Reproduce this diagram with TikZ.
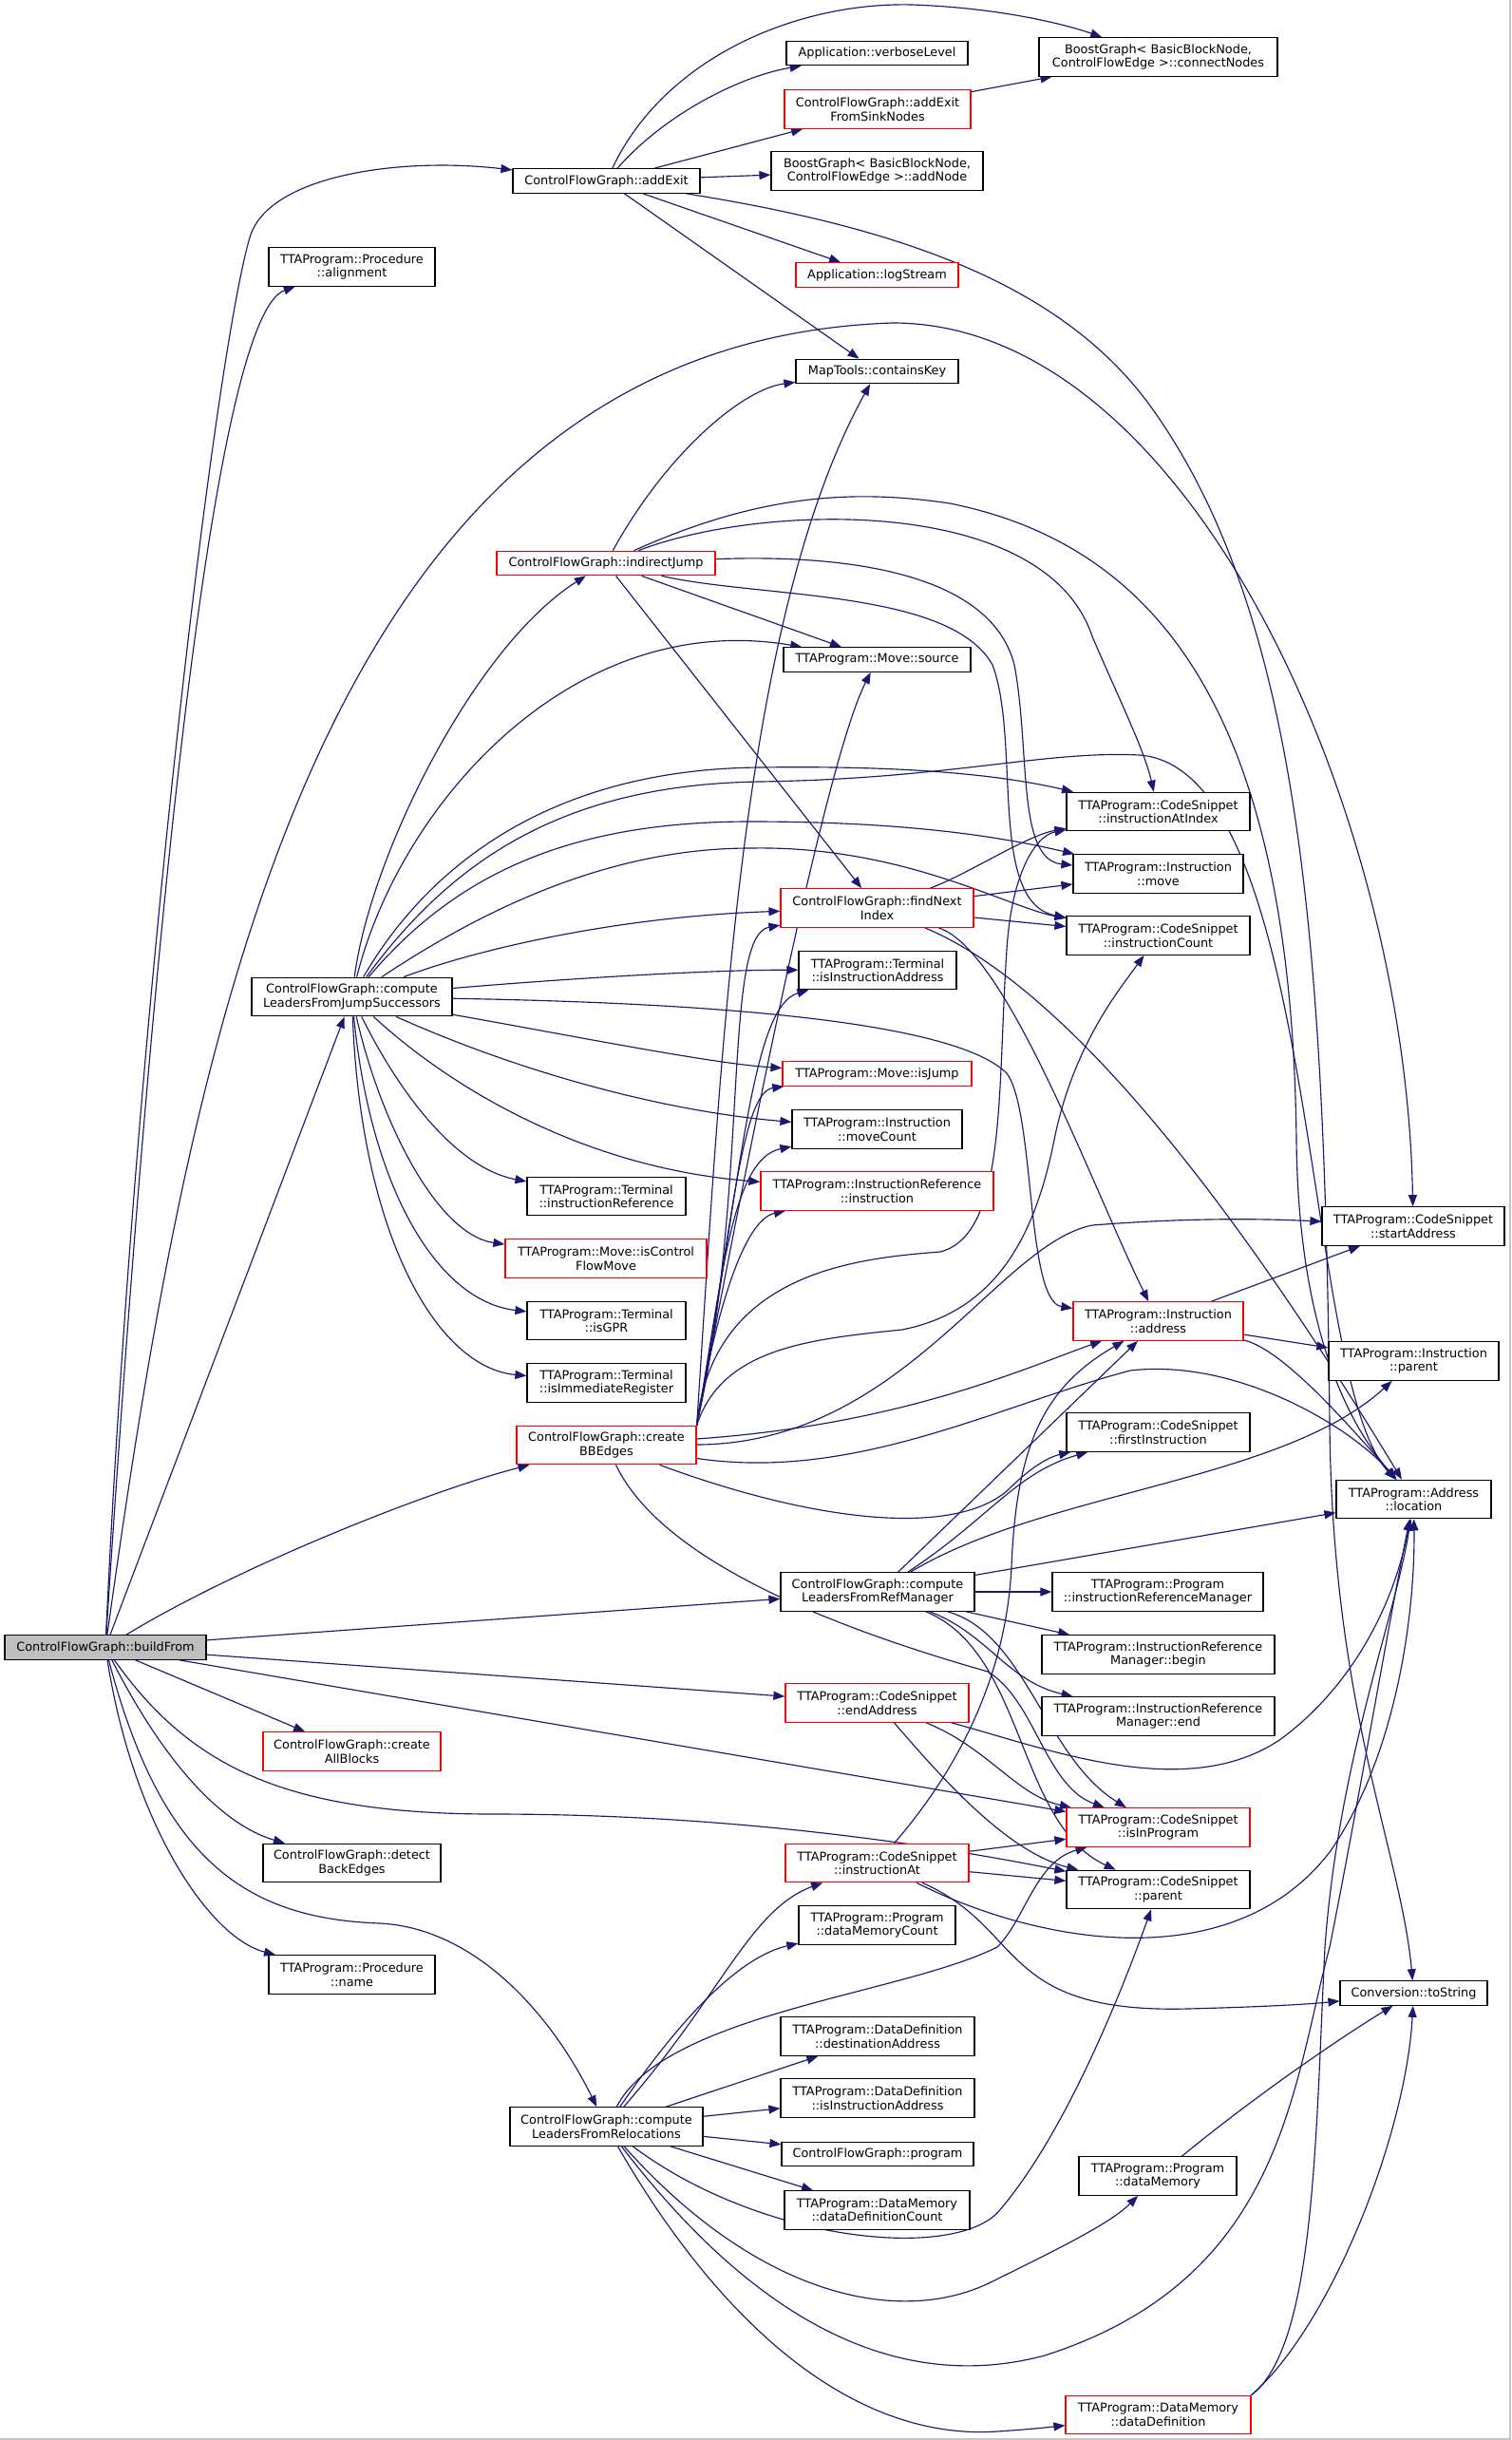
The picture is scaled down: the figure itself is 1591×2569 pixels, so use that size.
\documentclass[tikz,border=0pt]{standalone}
\usepackage{fontspec}
\setmainfont{DejaVu Sans}
\usetikzlibrary{arrows.meta}
\definecolor{edgec}{HTML}{191970}
\definecolor{gfill}{HTML}{BFBFBF}
\pgfdeclarelayer{back}
\pgfdeclarelayer{edges}
\pgfsetlayers{back,edges,main}
\newcommand{\mkbox}[7]{\node[#6, minimum width=#4pt, minimum height=#5pt] (#1) at (#2,#3) {#7};}
\tikzset{
  box/.style={draw=black, fill=white, line width=1.2pt, inner sep=0pt, align=center, font=\fontsize{12.85}{14.5}\selectfont},
  rbox/.style={box, draw=red},
  gbox/.style={box, fill=gfill},
  e/.style={draw=edgec, line width=1.15pt, -{Triangle[length=12pt,width=9pt]}},
}
\begin{document}
\begin{tikzpicture}[x=1pt,y=-1pt]
\useasboundingbox (0,0) rectangle (1591,2569);
\begin{pgfonlayer}{back}
\fill[white] (0,0) rectangle (1591,2569);
\draw[gray!45, line width=2pt] (1590,0) -- (1590,2568) -- (0,2568);
\end{pgfonlayer}
% nodes
\mkbox{bf}{111}{1734.5}{212}{25.5}{gbox}{ControlFlowGraph::buildFrom}
\mkbox{ae}{638.5}{190.5}{197}{25.5}{box}{ControlFlowGraph::addExit}
\mkbox{algn}{370.5}{281}{175}{40.5}{box}{TTAProgram::Procedure\\::alignment}
\mkbox{vl}{923.5}{56}{191}{25.5}{box}{Application::verboseLevel}
\mkbox{cn}{1219.5}{60}{251}{40.5}{box}{BoostGraph< BasicBlockNode,\\ControlFlowEdge >::connectNodes}
\mkbox{aefsn}{924}{115}{196}{40.5}{rbox}{ControlFlowGraph::addExit\\FromSinkNodes}
\mkbox{an}{923.5}{180}{223}{40.5}{box}{BoostGraph< BasicBlockNode,\\ControlFlowEdge >::addNode}
\mkbox{ls}{923.5}{289.5}{171}{25.5}{rbox}{Application::logStream}
\mkbox{ck}{923.5}{391}{171}{25.5}{box}{MapTools::containsKey}
\mkbox{ij}{638}{593}{230}{25.5}{rbox}{ControlFlowGraph::indirectJump}
\mkbox{ms}{923.5}{694.5}{197}{25.5}{box}{TTAProgram::Move::source}
\mkbox{iai}{1219.5}{854.5}{193}{40.5}{box}{TTAProgram::CodeSnippet\\::instructionAtIndex}
\mkbox{im}{1219.5}{920}{179}{40.5}{box}{TTAProgram::Instruction\\::move}
\mkbox{fni}{923.5}{956}{203}{40.5}{rbox}{ControlFlowGraph::findNext\\Index}
\mkbox{ic}{1219.5}{985}{193}{40.5}{box}{TTAProgram::CodeSnippet\\::instructionCount}
\mkbox{cfljs}{370.5}{1049.5}{211}{40.5}{box}{ControlFlowGraph::compute\\LeadersFromJumpSuccessors}
\mkbox{tiia}{924}{1021.5}{166}{40.5}{box}{TTAProgram::Terminal\\::isInstructionAddress}
\mkbox{isj}{923.5}{1130.5}{199}{25.5}{rbox}{TTAProgram::Move::isJump}
\mkbox{mc}{923.5}{1189}{179}{40.5}{box}{TTAProgram::Instruction\\::moveCount}
\mkbox{iri}{923.5}{1254}{245}{40.5}{rbox}{TTAProgram::InstructionReference\\::instruction}
\mkbox{tir}{638.5}{1259.5}{167}{40.5}{box}{TTAProgram::Terminal\\::instructionReference}
\mkbox{icfm}{638}{1325}{212}{40.5}{rbox}{TTAProgram::Move::isControl\\FlowMove}
\mkbox{gpr}{638.5}{1390.5}{167}{40.5}{box}{TTAProgram::Terminal\\::isGPR}
\mkbox{imr}{638.5}{1456}{167}{40.5}{box}{TTAProgram::Terminal\\::isImmediateRegister}
\mkbox{cbb}{638.5}{1521.5}{189}{40.5}{rbox}{ControlFlowGraph::create\\BBEdges}
\mkbox{sa}{1488}{1291}{192}{40.5}{box}{TTAProgram::CodeSnippet\\::startAddress}
\mkbox{ia}{1219.5}{1391}{179}{40.5}{rbox}{TTAProgram::Instruction\\::address}
\mkbox{ip}{1488.5}{1433}{179}{40.5}{box}{TTAProgram::Instruction\\::parent}
\mkbox{fi}{1219.5}{1508}{193}{40.5}{box}{TTAProgram::CodeSnippet\\::firstInstruction}
\mkbox{loc}{1488.5}{1578.5}{163}{40.5}{box}{TTAProgram::Address\\::location}
\mkbox{cflrm}{924}{1676}{204}{40.5}{box}{ControlFlowGraph::compute\\LeadersFromRefManager}
\mkbox{irm}{1219}{1676}{222}{40.5}{box}{TTAProgram::Program\\::instructionReferenceManager}
\mkbox{irmb}{1219.5}{1742}{245}{40.5}{box}{TTAProgram::InstructionReference\\Manager::begin}
\mkbox{irme}{1219.5}{1807}{245}{40.5}{box}{TTAProgram::InstructionReference\\Manager::end}
\mkbox{ea}{923.5}{1793}{193}{40.5}{rbox}{TTAProgram::CodeSnippet\\::endAddress}
\mkbox{cab}{370.5}{1844}{187}{40.5}{rbox}{ControlFlowGraph::create\\AllBlocks}
\mkbox{iip}{1219.5}{1924}{193}{40.5}{rbox}{TTAProgram::CodeSnippet\\::isInProgram}
\mkbox{dbe}{370.5}{1961.5}{187}{40.5}{box}{ControlFlowGraph::detect\\BackEdges}
\mkbox{iat}{923.5}{1961.5}{193}{40.5}{rbox}{TTAProgram::CodeSnippet\\::instructionAt}
\mkbox{csp}{1219.5}{1989.5}{193}{40.5}{box}{TTAProgram::CodeSnippet\\::parent}
\mkbox{dmc}{923.5}{2027}{165}{40.5}{box}{TTAProgram::Program\\::dataMemoryCount}
\mkbox{pn}{370.5}{2079}{175}{40.5}{box}{TTAProgram::Procedure\\::name}
\mkbox{ts}{1488.5}{2098.5}{155}{25.5}{box}{Conversion::toString}
\mkbox{dda}{924}{2144}{204}{40.5}{box}{TTAProgram::DataDefinition\\::destinationAddress}
\mkbox{ddiia}{924}{2209}{204}{40.5}{box}{TTAProgram::DataDefinition\\::isInstructionAddress}
\mkbox{cflrel}{638.5}{2239}{203}{40.5}{box}{ControlFlowGraph::compute\\LeadersFromRelocations}
\mkbox{cp}{924}{2268}{202}{25.5}{box}{ControlFlowGraph::program}
\mkbox{ddc}{923.5}{2327}{195}{40.5}{box}{TTAProgram::DataMemory\\::dataDefinitionCount}
\mkbox{dm}{1219}{2291}{166}{40.5}{box}{TTAProgram::Program\\::dataMemory}
\mkbox{dd}{1219.5}{2542.5}{195}{40.5}{rbox}{TTAProgram::DataMemory\\::dataDefinition}
\begin{pgfonlayer}{edges}
% buildFrom
\draw[e] (bf) .. controls (140,1100) and (225,380) .. (263,250) .. controls (282,185) and (420,165) .. (ae);
\draw[e] (bf) .. controls (165,900) and (230,330) .. (algn);
\draw[e] (bf) .. controls (200,1100) and (330,360) .. (940,340) .. controls (1250,340) and (1480,850) .. (sa);
\draw[e] (bf) -- (cfljs);
\draw[e] (bf) .. controls (250,1650) and (450,1570) .. (cbb);
\draw[e] (bf) -- (cflrm);
\draw[e] (bf) -- (ea);
\draw[e] (bf) -- (iip);
\draw[e] (bf) .. controls (200,1860) and (300,1910) .. (520,1910) .. controls (800,1910) and (1020,1950) .. (csp);
\draw[e] (bf) -- (cab);
\draw[e] (bf) .. controls (170,1850) and (230,1920) .. (dbe);
\draw[e] (bf) .. controls (140,1920) and (220,2040) .. (pn);
\draw[e] (bf) .. controls (170,1960) and (260,2020) .. (400,2025) .. controls (500,2030) and (580,2120) .. (cflrel);
% addExit
\draw[e] (ae) .. controls (700,120) and (780,80) .. (vl);
\draw[e] (ae) .. controls (700,60) and (840,2) .. (960,5) .. controls (1050,8) and (1120,25) .. (cn);
\draw[e] (ae) -- (aefsn);
\draw[e] (ae) -- (an);
\draw[e] (ae) -- (ls);
\draw[e] (ae) -- (ck);
\draw[e] (ae) .. controls (950,240) and (1120,300) .. (1213,430) .. controls (1370,650) and (1395,1000) .. (1400,1500) .. controls (1403,1800) and (1475,1950) .. (ts);
\draw[e] (aefsn) -- (cn);
% computeLeadersFromJumpSuccessors
\draw[e] (cfljs) .. controls (390,900) and (500,680) .. (ij);
\draw[e] (cfljs) .. controls (420,850) and (600,640) .. (ms);
\draw[e] (cfljs) .. controls (440,930) and (560,810) .. (800,808) .. controls (950,806) and (1050,815) .. (iai);
\draw[e] (cfljs) .. controls (480,900) and (600,826) .. (800,823) .. controls (1000,820) and (1100,790) .. (1200,795) .. controls (1390,810) and (1370,1450) .. (loc);
\draw[e] (cfljs) .. controls (480,920) and (600,865) .. (790,865) .. controls (950,865) and (1050,880) .. (im);
\draw[e] (cfljs) .. controls (520,950) and (650,893) .. (790,893) .. controls (950,890) and (1060,955) .. (ic);
\draw[e] (cfljs) .. controls (500,1000) and (650,965) .. (fni);
\draw[e] (cfljs) .. controls (600,1030) and (750,1021) .. (tiia);
\draw[e] (cfljs) .. controls (700,1055) and (1000,1070) .. (1060,1130) .. controls (1090,1170) and (1080,1370) .. (ia);
\draw[e] (cfljs) .. controls (600,1090) and (750,1120) .. (isj);
\draw[e] (cfljs) .. controls (550,1130) and (700,1170) .. (mc);
\draw[e] (cfljs) .. controls (480,1150) and (620,1230) .. (iri);
\draw[e] (cfljs) .. controls (420,1150) and (480,1230) .. (tir);
\draw[e] (cfljs) .. controls (400,1180) and (460,1300) .. (icfm);
\draw[e] (cfljs) .. controls (390,1250) and (460,1370) .. (gpr);
\draw[e] (cfljs) .. controls (380,1300) and (460,1440) .. (imr);
% indirectJump
\draw[e] (ij) .. controls (700,480) and (780,410) .. (ck);
\draw[e] (ij) -- (fni);
\draw[e] (ij) -- (ms);
\draw[e] (ij) .. controls (850,585) and (1040,590) .. (1068,700) .. controls (1085,790) and (1070,905) .. (im);
\draw[e] (ij) .. controls (800,630) and (1000,620) .. (1045,700) .. controls (1075,780) and (1040,950) .. (ic);
\draw[e] (ij) .. controls (800,530) and (1100,520) .. (1150,670) .. controls (1180,740) and (1205,790) .. (iai);
\draw[e] (ij) .. controls (800,520) and (900,515) .. (1000,530) .. controls (1250,580) and (1360,800) .. (1365,1200) .. controls (1367,1400) and (1420,1500) .. (loc);
% findNextIndex
\draw[e] (fni) .. controls (1020,920) and (1080,880) .. (iai);
\draw[e] (fni) -- (im);
\draw[e] (fni) -- (ic);
\draw[e] (fni) .. controls (1060,1000) and (1150,1250) .. (ia);
\draw[e] (fni) .. controls (1150,1050) and (1350,1350) .. (loc);
% createBBEdges
\draw[e] (cbb.north east) .. controls (760,1100) and (780,650) .. (ck);
\draw[e] (cbb.north east) .. controls (790,1200) and (870,800) .. (ms);
\draw[e] (cbb.north east) .. controls (790,1250) and (760,985) .. (fni);
\draw[e] (cbb.north east) .. controls (780,1250) and (790,1060) .. (tiia);
\draw[e] (cbb.north east) .. controls (770,1300) and (780,1150) .. (isj);
\draw[e] (cbb.north east) .. controls (760,1350) and (770,1220) .. (mc);
\draw[e] (cbb.north east) .. controls (750,1400) and (780,1285) .. (iri);
\draw[e] (cbb.north east) .. controls (750,1340) and (900,1325) .. (990,1318) .. controls (1060,1300) and (1050,1150) .. (1060,1000) .. controls (1065,920) and (1090,880) .. (iai);
\draw[e] (cbb.north east) .. controls (760,1420) and (850,1410) .. (950,1400) .. controls (1050,1380) and (1090,1300) .. (1110,1200) .. controls (1130,1100) and (1180,1040) .. (ic);
\draw[e] (cbb) .. controls (950,1520) and (1050,1310) .. (1150,1290) .. controls (1250,1282) and (1330,1283) .. (sa);
\draw[e] (cbb) .. controls (950,1500) and (1080,1440) .. (ia);
\draw[e] (cbb) .. controls (900,1560) and (1050,1480) .. (1190,1443) .. controls (1300,1430) and (1420,1500) .. (loc);
\draw[e] (cbb) .. controls (850,1600) and (1000,1620) .. (1060,1570) .. controls (1080,1550) and (1100,1535) .. (fi);
\draw[e] (cbb) .. controls (700,1650) and (900,1720) .. (1040,1760) .. controls (1090,1790) and (1100,1880) .. (iip);
% computeLeadersFromRefManager
\draw[e] (cflrm) -- (irm);
\draw[e] (cflrm) -- (irmb);
\draw[e] (cflrm) .. controls (1040,1720) and (1060,1770) .. (irme);
\draw[e] (cflrm) .. controls (1080,1720) and (1100,1850) .. (iip);
\draw[e] (cflrm) .. controls (1080,1740) and (1070,1920) .. (csp);
\draw[e] (cflrm) .. controls (1040,1600) and (1070,1550) .. (fi);
\draw[e] (cflrm) -- (ia);
\draw[e] (cflrm) .. controls (1100,1570) and (1350,1560) .. (ip);
\draw[e] (cflrm) -- (loc);
% endAddress
\draw[e] (ea) .. controls (1040,1840) and (1070,1890) .. (iip);
\draw[e] (ea) .. controls (990,1870) and (1060,1950) .. (csp);
\draw[e] (ea) .. controls (1100,1840) and (1250,1900) .. (1350,1830) .. controls (1430,1770) and (1470,1680) .. (loc);
% instructionAt
\draw[e] (iat) -- (iip);
\draw[e] (iat) -- (csp);
\draw[e] (iat) .. controls (1020,1850) and (1060,1750) .. (1065,1650) .. controls (1070,1520) and (1100,1460) .. (ia);
\draw[e] (iat) .. controls (1100,2050) and (1300,2080) .. (1400,1950) .. controls (1470,1850) and (1490,1700) .. (loc);
\draw[e] (iat) .. controls (1080,2030) and (1050,2120) .. (1250,2115) .. controls (1330,2113) and (1380,2110) .. (ts);
% Instruction::address
\draw[e] (ia) -- (sa);
\draw[e] (ia) -- (ip);
\draw[e] (ia) .. controls (1350,1420) and (1420,1500) .. (loc);
% computeLeadersFromRelocations
\draw[e] (cflrel) .. controls (700,2120) and (950,2100) .. (1050,2050) .. controls (1080,2020) and (1090,1960) .. (iip);
\draw[e] (cflrel) .. controls (720,2120) and (780,2060) .. (dmc);
\draw[e] (cflrel) .. controls (760,2100) and (790,2010) .. (iat);
\draw[e] (cflrel) -- (dda);
\draw[e] (cflrel) -- (ddiia);
\draw[e] (cflrel) -- (cp);
\draw[e] (cflrel) -- (ddc);
\draw[e] (cflrel) .. controls (800,2360) and (1000,2380) .. (1050,2330) .. controls (1120,2250) and (1180,2100) .. (csp);
\draw[e] (cflrel) .. controls (800,2420) and (950,2450) .. (1045,2402) .. controls (1120,2365) and (1170,2340) .. (dm);
\draw[e] (cflrel) .. controls (800,2450) and (950,2520) .. (1100,2480) .. controls (1350,2400) and (1360,2200) .. (1400,2050) .. controls (1430,1900) and (1460,1720) .. (loc);
\draw[e] (cflrel) .. controls (760,2450) and (900,2570) .. (1050,2560) .. controls (1080,2558) and (1100,2556) .. (dd);
% dataDefinition / dataMemory
\draw[e] (dd.north east) .. controls (1400,2450) and (1480,2250) .. (ts);
\draw[e] (dd.north east) .. controls (1385,2470) and (1385,2250) .. (1395,2050) .. controls (1410,1850) and (1470,1700) .. (loc);
\draw[e] (dm) .. controls (1330,2200) and (1420,2140) .. (ts);
\end{pgfonlayer}
\end{tikzpicture}
\end{document}
